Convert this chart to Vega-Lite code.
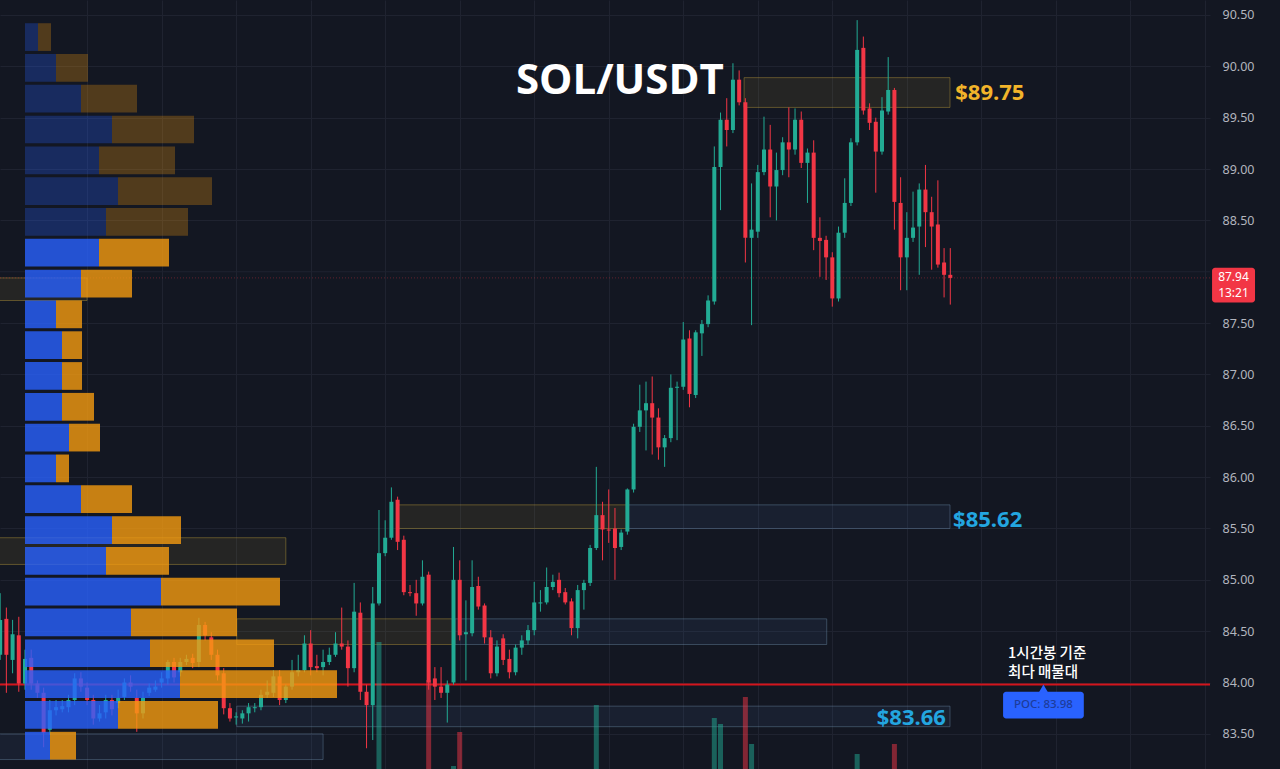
{
"$schema": "https://vega.github.io/schema/vega-lite/v6.json",
"width": 1210, "height": 769,
"autosize": {"type": "none"},
"padding": {"left": 0, "top": 0, "right": 70, "bottom": 0},
"background": "#131722",
"config": {"view": {"stroke": null}},
"datasets": {
"candles": [
{"i":0,"o":84.27,"h":84.87,"l":84.22,"c":84.61},{"i":1,"o":84.62,"h":84.73,"l":83.90,"c":84.27},{"i":2,"o":84.22,"h":84.61,"l":84.09,"c":84.47},{"i":3,"o":84.46,"h":84.64,"l":83.91,"c":83.99},{"i":4,"o":83.99,"h":84.32,"l":83.93,"c":84.23},{"i":5,"o":84.24,"h":84.32,"l":83.93,"c":83.99},{"i":6,"o":83.99,"h":84.02,"l":83.85,"c":83.90},{"i":7,"o":83.90,"h":83.95,"l":83.37,"c":83.51},{"i":8,"o":83.54,"h":83.83,"l":83.49,"c":83.73},{"i":9,"o":83.73,"h":83.83,"l":83.68,"c":83.76},
{"i":10,"o":83.74,"h":83.83,"l":83.71,"c":83.77},{"i":11,"o":83.76,"h":83.88,"l":83.71,"c":83.83},{"i":12,"o":83.83,"h":84.09,"l":83.78,"c":84.04},{"i":13,"o":84.04,"h":84.10,"l":83.91,"c":83.96},{"i":14,"o":83.95,"h":84.00,"l":83.78,"c":83.83},{"i":15,"o":83.83,"h":83.88,"l":83.59,"c":83.65},{"i":16,"o":83.65,"h":83.78,"l":83.62,"c":83.70},{"i":17,"o":83.71,"h":83.88,"l":83.65,"c":83.83},{"i":18,"o":83.83,"h":83.88,"l":83.68,"c":83.74},{"i":19,"o":83.80,"h":83.93,"l":83.75,"c":83.85},
{"i":20,"o":83.86,"h":84.04,"l":83.83,"c":84.00},{"i":21,"o":84.00,"h":84.07,"l":83.91,"c":83.96},{"i":22,"o":83.85,"h":83.93,"l":83.52,"c":83.70},{"i":23,"o":83.70,"h":83.91,"l":83.65,"c":83.85},{"i":24,"o":83.90,"h":83.99,"l":83.87,"c":83.95},{"i":25,"o":83.93,"h":84.02,"l":83.91,"c":83.96},{"i":26,"o":84.00,"h":84.10,"l":83.95,"c":84.04},{"i":27,"o":84.04,"h":84.22,"l":83.98,"c":84.20},{"i":28,"o":84.20,"h":84.24,"l":84.00,"c":84.05},{"i":29,"o":84.10,"h":84.24,"l":84.06,"c":84.20},
{"i":30,"o":84.20,"h":84.27,"l":84.17,"c":84.23},{"i":31,"o":84.24,"h":84.28,"l":84.14,"c":84.19},{"i":32,"o":84.20,"h":84.63,"l":84.15,"c":84.56},{"i":33,"o":84.56,"h":84.59,"l":84.41,"c":84.46},{"i":34,"o":84.44,"h":84.49,"l":84.22,"c":84.27},{"i":35,"o":84.27,"h":84.32,"l":84.02,"c":84.07},{"i":36,"o":84.09,"h":84.14,"l":83.69,"c":83.75},{"i":37,"o":83.75,"h":83.80,"l":83.62,"c":83.65},{"i":38,"o":83.66,"h":83.71,"l":83.59,"c":83.67},{"i":39,"o":83.65,"h":83.73,"l":83.60,"c":83.70},
{"i":40,"o":83.70,"h":83.80,"l":83.62,"c":83.76},{"i":41,"o":83.75,"h":83.80,"l":83.71,"c":83.76},{"i":42,"o":83.76,"h":83.93,"l":83.73,"c":83.88},{"i":43,"o":83.88,"h":84.02,"l":83.85,"c":83.91},{"i":44,"o":83.90,"h":84.12,"l":83.86,"c":84.06},{"i":45,"o":84.06,"h":84.12,"l":83.78,"c":83.83},{"i":46,"o":83.83,"h":83.98,"l":83.80,"c":83.96},{"i":47,"o":83.96,"h":84.22,"l":83.93,"c":84.10},{"i":48,"o":84.10,"h":84.27,"l":84.06,"c":84.12},{"i":49,"o":84.12,"h":84.46,"l":84.10,"c":84.38},
{"i":50,"o":84.38,"h":84.51,"l":84.07,"c":84.15},{"i":51,"o":84.16,"h":84.27,"l":84.10,"c":84.14},{"i":52,"o":84.15,"h":84.32,"l":84.07,"c":84.20},{"i":53,"o":84.20,"h":84.34,"l":84.17,"c":84.27},{"i":54,"o":84.27,"h":84.49,"l":84.25,"c":84.38},{"i":55,"o":84.38,"h":84.73,"l":84.32,"c":84.35},{"i":56,"o":84.35,"h":84.41,"l":83.96,"c":84.14},{"i":57,"o":84.14,"h":84.97,"l":84.10,"c":84.69},{"i":58,"o":84.68,"h":84.78,"l":83.83,"c":83.91},{"i":59,"o":83.91,"h":83.98,"l":83.36,"c":83.78},
{"i":60,"o":83.78,"h":84.93,"l":83.44,"c":84.77},{"i":61,"o":84.77,"h":85.68,"l":84.75,"c":85.26},{"i":62,"o":85.26,"h":85.58,"l":85.23,"c":85.41},{"i":63,"o":85.41,"h":85.90,"l":85.39,"c":85.76},{"i":64,"o":85.78,"h":85.81,"l":85.29,"c":85.37},{"i":65,"o":85.39,"h":85.43,"l":84.85,"c":84.88},{"i":66,"o":84.88,"h":84.95,"l":84.84,"c":84.87},{"i":67,"o":84.87,"h":85.00,"l":84.65,"c":84.77},{"i":68,"o":84.77,"h":85.19,"l":84.75,"c":85.03},{"i":69,"o":85.05,"h":85.08,"l":83.93,"c":84.00},
{"i":70,"o":84.04,"h":84.15,"l":83.83,"c":83.96},{"i":71,"o":83.96,"h":84.15,"l":83.85,"c":83.90},{"i":72,"o":83.90,"h":84.02,"l":83.61,"c":83.98},{"i":73,"o":84.00,"h":85.32,"l":83.98,"c":85.00},{"i":74,"o":85.00,"h":85.19,"l":84.41,"c":84.46},{"i":75,"o":84.47,"h":84.80,"l":84.02,"c":84.49},{"i":76,"o":84.48,"h":85.19,"l":84.45,"c":84.93},{"i":77,"o":84.94,"h":85.03,"l":84.71,"c":84.74},{"i":78,"o":84.75,"h":84.77,"l":84.38,"c":84.44},{"i":79,"o":84.44,"h":84.51,"l":84.04,"c":84.09},
{"i":80,"o":84.09,"h":84.41,"l":84.06,"c":84.35},{"i":81,"o":84.43,"h":84.47,"l":84.17,"c":84.22},{"i":82,"o":84.23,"h":84.32,"l":84.04,"c":84.10},{"i":83,"o":84.10,"h":84.37,"l":84.07,"c":84.34},{"i":84,"o":84.34,"h":84.46,"l":84.27,"c":84.41},{"i":85,"o":84.41,"h":84.56,"l":84.37,"c":84.51},{"i":86,"o":84.51,"h":84.98,"l":84.46,"c":84.78},{"i":87,"o":84.77,"h":84.90,"l":84.69,"c":84.78},{"i":88,"o":84.78,"h":85.12,"l":84.76,"c":84.93},{"i":89,"o":84.93,"h":85.05,"l":84.90,"c":84.98},
{"i":90,"o":85.00,"h":85.07,"l":84.83,"c":84.87},{"i":91,"o":84.88,"h":84.92,"l":84.76,"c":84.78},{"i":92,"o":84.79,"h":84.82,"l":84.46,"c":84.53},{"i":93,"o":84.53,"h":84.95,"l":84.43,"c":84.90},{"i":94,"o":84.90,"h":85.00,"l":84.71,"c":84.97},{"i":95,"o":84.97,"h":85.34,"l":84.94,"c":85.31},{"i":96,"o":85.31,"h":86.10,"l":85.29,"c":85.63},{"i":97,"o":85.63,"h":85.76,"l":85.19,"c":85.49},{"i":98,"o":85.49,"h":85.88,"l":85.36,"c":85.48},{"i":99,"o":85.50,"h":85.70,"l":85.00,"c":85.31},
{"i":100,"o":85.32,"h":85.49,"l":85.29,"c":85.46},{"i":101,"o":85.47,"h":85.89,"l":85.44,"c":85.88},{"i":102,"o":85.88,"h":86.52,"l":85.85,"c":86.49},{"i":103,"o":86.49,"h":86.90,"l":86.44,"c":86.65},{"i":104,"o":86.65,"h":86.93,"l":86.26,"c":86.72},{"i":105,"o":86.72,"h":86.98,"l":86.22,"c":86.58},{"i":106,"o":86.58,"h":86.67,"l":86.17,"c":86.29},{"i":107,"o":86.29,"h":86.41,"l":86.10,"c":86.38},{"i":108,"o":86.38,"h":87.00,"l":86.34,"c":86.87},{"i":109,"o":86.87,"h":86.93,"l":86.36,"c":86.88},
{"i":110,"o":86.88,"h":87.51,"l":86.85,"c":87.34},{"i":111,"o":87.35,"h":87.43,"l":86.68,"c":86.81},{"i":112,"o":86.80,"h":87.43,"l":86.77,"c":87.41},{"i":113,"o":87.40,"h":87.53,"l":87.18,"c":87.49},{"i":114,"o":87.49,"h":87.77,"l":87.46,"c":87.72},{"i":115,"o":87.71,"h":89.22,"l":87.68,"c":89.02},{"i":116,"o":89.02,"h":89.55,"l":88.60,"c":89.48},{"i":117,"o":89.48,"h":89.69,"l":89.22,"c":89.38},{"i":118,"o":89.38,"h":90.03,"l":89.35,"c":89.87},{"i":119,"o":89.87,"h":89.96,"l":89.62,"c":89.65},
{"i":120,"o":89.65,"h":89.69,"l":88.09,"c":88.33},{"i":121,"o":88.33,"h":88.86,"l":87.48,"c":88.41},{"i":122,"o":88.39,"h":89.04,"l":88.33,"c":88.97},{"i":123,"o":88.97,"h":89.51,"l":88.94,"c":89.19},{"i":124,"o":89.19,"h":89.43,"l":88.53,"c":88.83},{"i":125,"o":88.83,"h":89.16,"l":88.50,"c":88.99},{"i":126,"o":88.99,"h":89.31,"l":88.94,"c":89.26},{"i":127,"o":89.26,"h":89.60,"l":88.92,"c":89.19},{"i":128,"o":89.19,"h":89.59,"l":89.14,"c":89.48},{"i":129,"o":89.48,"h":89.56,"l":89.01,"c":89.06},
{"i":130,"o":89.06,"h":89.20,"l":88.67,"c":89.16},{"i":131,"o":89.16,"h":89.28,"l":88.21,"c":88.33},{"i":132,"o":88.33,"h":88.53,"l":87.95,"c":88.30},{"i":133,"o":88.31,"h":88.35,"l":87.92,"c":88.14},{"i":134,"o":88.14,"h":88.19,"l":87.66,"c":87.74},{"i":135,"o":87.74,"h":88.44,"l":87.71,"c":88.38},{"i":136,"o":88.38,"h":88.91,"l":88.33,"c":88.67},{"i":137,"o":88.67,"h":89.30,"l":88.64,"c":89.26},{"i":138,"o":89.26,"h":90.45,"l":89.23,"c":90.16},{"i":139,"o":90.18,"h":90.29,"l":89.53,"c":89.57},
{"i":140,"o":89.59,"h":89.64,"l":89.38,"c":89.45},{"i":141,"o":89.46,"h":89.50,"l":88.77,"c":89.17},{"i":142,"o":89.17,"h":89.70,"l":89.14,"c":89.57},{"i":143,"o":89.56,"h":90.09,"l":89.53,"c":89.77},{"i":144,"o":89.77,"h":89.79,"l":88.41,"c":88.68},{"i":145,"o":88.67,"h":88.92,"l":87.82,"c":88.14},{"i":146,"o":88.14,"h":88.58,"l":87.82,"c":88.33},{"i":147,"o":88.33,"h":88.78,"l":88.29,"c":88.43},{"i":148,"o":88.44,"h":88.86,"l":87.97,"c":88.80},{"i":149,"o":88.80,"h":89.04,"l":88.24,"c":88.58},
{"i":150,"o":88.58,"h":88.73,"l":88.02,"c":88.44},{"i":151,"o":88.46,"h":88.89,"l":88.04,"c":88.07},{"i":152,"o":88.09,"h":88.23,"l":87.75,"c":87.97},{"i":153,"o":87.97,"h":88.23,"l":87.68,"c":87.94}
],
"profile": [
{"lo":90.15,"hi":90.42,"buy":13,"total":26,"va":false},{"lo":89.85,"hi":90.12,"buy":31,"total":63,"va":false},{"lo":89.55,"hi":89.82,"buy":56,"total":112,"va":false},{"lo":89.25,"hi":89.52,"buy":87,"total":169,"va":false},{"lo":88.95,"hi":89.22,"buy":74,"total":150,"va":false},{"lo":88.65,"hi":88.92,"buy":93,"total":187,"va":false},{"lo":88.35,"hi":88.62,"buy":81,"total":163,"va":false},
{"lo":88.05,"hi":88.32,"buy":74,"total":144,"va":true},{"lo":87.75,"hi":88.02,"buy":56,"total":107,"va":true},{"lo":87.45,"hi":87.72,"buy":31,"total":57,"va":true},{"lo":87.15,"hi":87.42,"buy":37,"total":57,"va":true},{"lo":86.85,"hi":87.12,"buy":37,"total":57,"va":true},{"lo":86.55,"hi":86.82,"buy":37,"total":69,"va":true},{"lo":86.25,"hi":86.52,"buy":44,"total":75,"va":true},{"lo":85.95,"hi":86.22,"buy":31,"total":44,"va":true},{"lo":85.65,"hi":85.92,"buy":56,"total":107,"va":true},{"lo":85.35,"hi":85.62,"buy":87,"total":156,"va":true},{"lo":85.05,"hi":85.32,"buy":81,"total":144,"va":true},{"lo":84.75,"hi":85.02,"buy":136,"total":255,"va":true},{"lo":84.45,"hi":84.72,"buy":106,"total":212,"va":true},{"lo":84.15,"hi":84.42,"buy":125,"total":249,"va":true},{"lo":83.85,"hi":84.12,"buy":155,"total":312,"va":true},{"lo":83.55,"hi":83.82,"buy":93,"total":193,"va":true},{"lo":83.25,"hi":83.52,"buy":25,"total":51,"va":true}
],
"zones": [
{"x1":119.8,"x2":152.95,"lo":89.60,"hi":89.89,"kind":"gold"},
{"x1":63.9,"x2":101.1,"lo":85.50,"hi":85.73,"kind":"gold"},
{"x1":101.1,"x2":152.95,"lo":85.50,"hi":85.73,"kind":"blue"},
{"x1":38.1,"x2":73.2,"lo":84.37,"hi":84.62,"kind":"gold"},
{"x1":73.2,"x2":133.1,"lo":84.37,"hi":84.62,"kind":"blue"},
{"x1":38.1,"x2":152.95,"lo":83.57,"hi":83.77,"kind":"blue"},
{"x1":-1,"x2":52.0,"lo":83.25,"hi":83.50,"kind":"blue"},
{"x1":-1,"x2":46.0,"lo":85.15,"hi":85.41,"kind":"gold"},
{"x1":-1,"x2":14.0,"lo":87.72,"hi":87.94,"kind":"gold"}
],
"vols": [
{"i":61,"v":1270,"dir":"up"},{"i":69,"v":890,"dir":"down"},{"i":73,"v":30,"dir":"up"},{"i":74,"v":370,"dir":"down"},{"i":96,"v":640,"dir":"up"},{"i":115,"v":510,"dir":"up"},{"i":116,"v":450,"dir":"up"},{"i":120,"v":720,"dir":"down"},{"i":121,"v":250,"dir":"up"},{"i":138,"v":150,"dir":"up"},{"i":144,"v":250,"dir":"down"}
]
},
"resolve": {"scale": {"x": "independent", "y": "independent"}},
"layer": [
{"layer": [
{"data": {"name": "zones"},
 "mark": {"type": "rect", "strokeWidth": 1, "fillOpacity": 0.1, "strokeOpacity": 0.4},
 "encoding": {
  "x": {"field": "x1", "type": "quantitative", "scale": {"domain": [-0.026, 194.82], "nice": false, "zero": false, "padding": 0},
   "axis": {"orient": "bottom", "values": [14, 26, 38, 50, 62, 74, 86, 98, 110, 122, 134, 146, 158, 170, 182, 194], "labels": false, "ticks": false, "domain": false, "grid": true, "gridColor": "#1f2330", "gridWidth": 1, "title": null}},
  "x2": {"field": "x2"},
  "y": {"field": "lo", "type": "quantitative", "scale": {"domain": [83.158, 90.646], "nice": false, "zero": false, "padding": 0},
   "axis": {"orient": "right", "values": [83.5, 84, 84.5, 85, 85.5, 86, 86.5, 87, 87.5, 88.5, 89, 89.5, 90, 90.5], "format": ".2f", "ticks": false, "tickSize": 0, "domain": false, "grid": true, "gridColor": "#1f2330", "gridWidth": 1, "labelPadding": 12, "labelFont": "Noto Sans", "labelFontSize": 12.5, "labelColor": "#b2b5be", "labelAlign": "left", "title": null}},
  "y2": {"field": "hi"},
  "fill": {"condition": {"test": "datum.kind === 'gold'", "value": "#c8a83c"}, "value": "#5078b4"},
  "stroke": {"condition": {"test": "datum.kind === 'gold'", "value": "#c8a83c"}, "value": "#7090b0"}
 }},
{"data": {"values": [{"p": 88.0}]},
 "mark": {"type": "rule", "color": "#1f2330", "strokeWidth": 1},
 "encoding": {"y": {"field": "p", "type": "quantitative"}}},
{"data": {"values": [{"p": 83.98}]},
 "mark": {"type": "rule", "color": "#d3151c", "strokeWidth": 2},
 "encoding": {"y": {"field": "p", "type": "quantitative"}}},
{"data": {"values": [{"p": 87.94}]},
 "mark": {"type": "rule", "color": "#f23645", "strokeWidth": 1, "opacity": 0.35, "strokeDash": [1, 2]},
 "encoding": {"y": {"field": "p", "type": "quantitative"}}},
{"data": {"name": "candles"},
 "mark": {"type": "rule", "strokeWidth": 1},
 "encoding": {
  "x": {"field": "i", "type": "quantitative"},
  "y": {"field": "l", "type": "quantitative"},
  "y2": {"field": "h"},
  "color": {"condition": {"test": "datum.c >= datum.o", "value": "#22ab94"}, "value": "#f23645"}
 }},
{"data": {"name": "candles"},
 "mark": {"type": "bar", "width": 4},
 "encoding": {
  "x": {"field": "i", "type": "quantitative"},
  "y": {"field": "o", "type": "quantitative"},
  "y2": {"field": "c"},
  "color": {"condition": {"test": "datum.c >= datum.o", "value": "#22ab94"}, "value": "#f23645"}
 }},
{"data": {"values": [{"i": 99.8, "p": 89.73, "t": "SOL/USDT"}]},
 "mark": {"type": "text", "font": "Open Sans", "fontSize": 42, "fontWeight": "bold", "color": "#ffffff", "align": "center", "baseline": "alphabetic"},
 "encoding": {"x": {"field": "i", "type": "quantitative"}, "y": {"field": "p", "type": "quantitative"}, "text": {"field": "t"}}},
{"data": {"values": [{"i": 153.8, "p": 89.67, "t": "$89.75", "k": "gold"}, {"i": 153.45, "p": 85.51, "t": "$85.62", "k": "blue"}]},
 "mark": {"type": "text", "font": "Open Sans", "fontSize": 22, "fontWeight": "bold", "align": "left", "baseline": "alphabetic"},
 "encoding": {"x": {"field": "i", "type": "quantitative"}, "y": {"field": "p", "type": "quantitative"}, "text": {"field": "t"},
  "color": {"condition": {"test": "datum.k === 'gold'", "value": "#f2b42a"}, "value": "#23a6e0"}}},
{"data": {"values": [{"i": 152.3, "p": 83.59, "t": "$83.66"}]},
 "mark": {"type": "text", "font": "Open Sans", "fontSize": 22, "fontWeight": "bold", "align": "right", "baseline": "alphabetic", "color": "#23a6e0"},
 "encoding": {"x": {"field": "i", "type": "quantitative"}, "y": {"field": "p", "type": "quantitative"}, "text": {"field": "t"}}},
{"data": {"values": [{"i": 162.3, "p": 84.24, "t": "1시간봉 기준"}, {"i": 162.3, "p": 84.05, "t": "최다 매물대"}]},
 "mark": {"type": "text", "font": "Noto Sans CJK KR", "fontSize": 14.5, "fontWeight": 500, "align": "left", "baseline": "alphabetic", "color": "#ffffff"},
 "encoding": {"x": {"field": "i", "type": "quantitative"}, "y": {"field": "p", "type": "quantitative"}, "text": {"field": "t"}}},
{"data": {"values": [{"x1": 161.5, "x2": 174.5, "lo": 83.65, "hi": 83.91, "k": "poc"}, {"x1": 195.15, "x2": 202.07, "lo": 87.70, "hi": 88.04, "k": "price"}]},
 "mark": {"type": "rect", "cornerRadius": 3},
 "encoding": {"x": {"field": "x1", "type": "quantitative"}, "x2": {"field": "x2"}, "y": {"field": "lo", "type": "quantitative"}, "y2": {"field": "hi"},
  "color": {"condition": {"test": "datum.k === 'poc'", "value": "#2962ff"}, "value": "#f23645"}}},
{"data": {"values": [{"i": 168.0, "p": 83.94}]},
 "mark": {"type": "point", "shape": "triangle-up", "filled": true, "size": 90, "color": "#2962ff", "opacity": 1},
 "encoding": {"x": {"field": "i", "type": "quantitative"}, "y": {"field": "p", "type": "quantitative"}}},
{"data": {"values": [{"i": 168.0, "p": 83.78, "t": "POC: 83.98"}]},
 "mark": {"type": "text", "font": "Noto Sans", "fontSize": 11.5, "fontWeight": 500, "align": "center", "baseline": "middle", "color": "#1d3c9a"},
 "encoding": {"x": {"field": "i", "type": "quantitative"}, "y": {"field": "p", "type": "quantitative"}, "text": {"field": "t"}}},
{"data": {"values": [{"i": 198.6, "p": 87.95, "t": "87.94"}, {"i": 198.6, "p": 87.79, "t": "13:21"}]},
 "mark": {"type": "text", "font": "Noto Sans", "fontSize": 12, "align": "center", "baseline": "middle", "color": "#ffffff"},
 "encoding": {"x": {"field": "i", "type": "quantitative"}, "y": {"field": "p", "type": "quantitative"}, "text": {"field": "t"}}}
]},
{"data": {"name": "vols"},
 "mark": {"type": "bar", "width": 5, "opacity": 0.5},
 "encoding": {
  "x": {"field": "i", "type": "quantitative", "scale": {"domain": [-0.026, 194.82], "nice": false, "zero": false, "padding": 0}, "axis": null},
  "y": {"field": "v", "type": "quantitative", "scale": {"domain": [0, 7690], "nice": false, "padding": 0}, "axis": null},
  "color": {"condition": {"test": "datum.dir === 'up'", "value": "#22ab94"}, "value": "#f23645"}
 }},
{"data": {"name": "profile"},
 "mark": {"type": "rect", "color": "#2962ff"},
 "encoding": {
  "x": {"field": "buy", "type": "quantitative", "scale": {"domain": [-25, 1185], "nice": false, "zero": false, "padding": 0}, "axis": null},
  "y": {"field": "lo", "type": "quantitative", "scale": {"domain": [83.158, 90.646], "nice": false, "zero": false, "padding": 0}, "axis": null},
  "y2": {"field": "hi"},
  "opacity": {"condition": {"test": "datum.va", "value": 0.8}, "value": 0.28}
 }},
{"data": {"name": "profile"},
 "mark": {"type": "rect", "color": "#f59b10"},
 "encoding": {
  "x": {"field": "buy", "type": "quantitative", "scale": {"domain": [-25, 1185], "nice": false, "zero": false, "padding": 0}, "axis": null},
  "x2": {"field": "total"},
  "y": {"field": "lo", "type": "quantitative", "scale": {"domain": [83.158, 90.646], "nice": false, "zero": false, "padding": 0}, "axis": null},
  "y2": {"field": "hi"},
  "opacity": {"condition": {"test": "datum.va", "value": 0.8}, "value": 0.28}
 }}
]
}
